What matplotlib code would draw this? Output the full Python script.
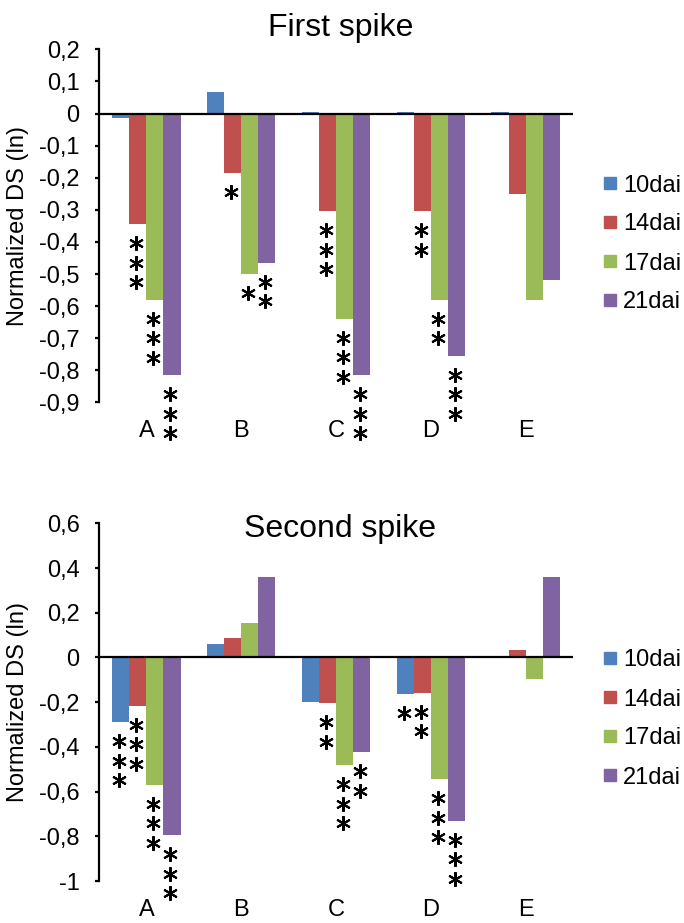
import numpy as np
import matplotlib
matplotlib.use('Agg')
import matplotlib.pyplot as plt
from matplotlib.lines import Line2D
from matplotlib.transforms import ScaledTranslation

plt.rcParams['font.family'] = ['Liberation Sans', 'DejaVu Sans']

categories = ['A', 'B', 'C', 'D', 'E']
series = ['10dai', '14dai', '17dai', '21dai']
colors = ['#4F81BD', '#C0504D', '#9BBB59', '#8064A2']

# First spike values
first_10 = [-0.015, 0.068, 0.005, 0.005, 0.005]
first_14 = [-0.345, -0.185, -0.305, -0.305, -0.25]
first_17 = [-0.58, -0.50, -0.64, -0.58, -0.58]
first_21 = [-0.815, -0.465, -0.815, -0.755, -0.52]

# Second spike values
second_10 = [-0.29, 0.058, -0.20, -0.162, 0.0]
second_14 = [-0.215, 0.088, -0.205, -0.158, 0.035]
second_17 = [-0.57, 0.153, -0.482, -0.545, -0.096]
second_21 = [-0.795, 0.36, -0.425, -0.73, 0.36]

# Number of significance asterisks
first_stars_10 = [0, 0, 0, 0, 0]
first_stars_14 = [3, 1, 3, 2, 0]
first_stars_17 = [3, 1, 3, 2, 0]
first_stars_21 = [3, 2, 3, 3, 0]

second_stars_10 = [3, 0, 0, 1, 0]
second_stars_14 = [3, 0, 2, 2, 0]
second_stars_17 = [3, 0, 3, 3, 0]
second_stars_21 = [3, 0, 2, 3, 0]

first_yticks = [0.2, 0.1, 0, -0.1, -0.2, -0.3, -0.4, -0.5, -0.6, -0.7, -0.8, -0.9]
first_yticklabels = ['0,2', '0,1', '0', '-0,1', '-0,2', '-0,3', '-0,4', '-0,5',
                     '-0,6', '-0,7', '-0,8', '-0,9']
second_yticks = [0.6, 0.4, 0.2, 0, -0.2, -0.4, -0.6, -0.8, -1.0]
second_yticklabels = ['0,6', '0,4', '0,2', '0', '-0,2', '-0,4', '-0,6', '-0,8', '-1']

W, H = 684, 923
fig = plt.figure(figsize=(W / 100, H / 100), dpi=100)


def px_axes(l, t, r, b):
    return fig.add_axes([l / W, 1 - b / H, (r - l) / W, (b - t) / H])


def draw(ax, vals, stars, yticks, yticklabels, ylim, title, title_xy, legend_y):
    x = np.arange(len(categories))
    w = 0.18
    for j, s in enumerate(series):
        pos = x + (j - 1.5) * w
        ax.bar(pos, vals[j], width=w, color=colors[j], zorder=2, linewidth=0)
        for i in range(len(categories)):
            for k in range(stars[j][i]):
                tr = ax.transData + ScaledTranslation(-0.015, -(0.19 + 0.195 * k),
                                                      fig.dpi_scale_trans)
                ax.plot([pos[i]], [vals[j][i]], marker=(6, 2, 0), ms=10.5, mew=1.5,
                        color='black', ls='none', transform=tr, clip_on=False,
                        zorder=4)
    ax.axhline(0, color='black', lw=1.6, zorder=3)
    ax.set_xlim(-0.5, len(categories) - 0.5)
    ax.set_ylim(*ylim)
    ax.set_yticks(yticks)
    ax.set_yticklabels(yticklabels)
    ax.set_xticks(x)
    ax.set_xticklabels(categories)
    for sp in ['top', 'right', 'bottom']:
        ax.spines[sp].set_visible(False)
    ax.spines['left'].set_linewidth(1.6)
    ax.tick_params(axis='y', direction='out', length=3, width=1.6, pad=11, labelsize=17)
    ax.tick_params(axis='x', length=0, pad=13, labelsize=17)
    ax.set_ylabel('Normalized DS (ln)', fontsize=17)
    ax.yaxis.set_label_coords((29 - 99) / 474, 0.5)
    fig.text(title_xy[0] / W, 1 - title_xy[1] / H, title, ha='center', va='baseline',
             fontsize=23)
    handles = [Line2D([], [], marker='s', ls='none', color=c, markersize=8.6)
               for c in colors]
    fig.legend(handles, series, loc='center left', bbox_to_anchor=(603 / W, legend_y),
               frameon=False, fontsize=17, handlelength=0.6, handletextpad=0.25,
               labelspacing=0.72, borderpad=0, borderaxespad=0)


ax1 = px_axes(99, 49.3, 573, 402.4)
ax2 = px_axes(99, 523.3, 573, 881)

draw(ax1, [first_10, first_14, first_17, first_21],
     [first_stars_10, first_stars_14, first_stars_17, first_stars_21],
     first_yticks, first_yticklabels, (-0.9, 0.2), 'First spike', (341, 36),
     1 - 244 / H)
draw(ax2, [second_10, second_14, second_17, second_21],
     [second_stars_10, second_stars_14, second_stars_17, second_stars_21],
     second_yticks, second_yticklabels, (-1.0, 0.6), 'Second spike', (340, 537),
     1 - 719 / H)

fig.savefig('out.png', dpi=100)
